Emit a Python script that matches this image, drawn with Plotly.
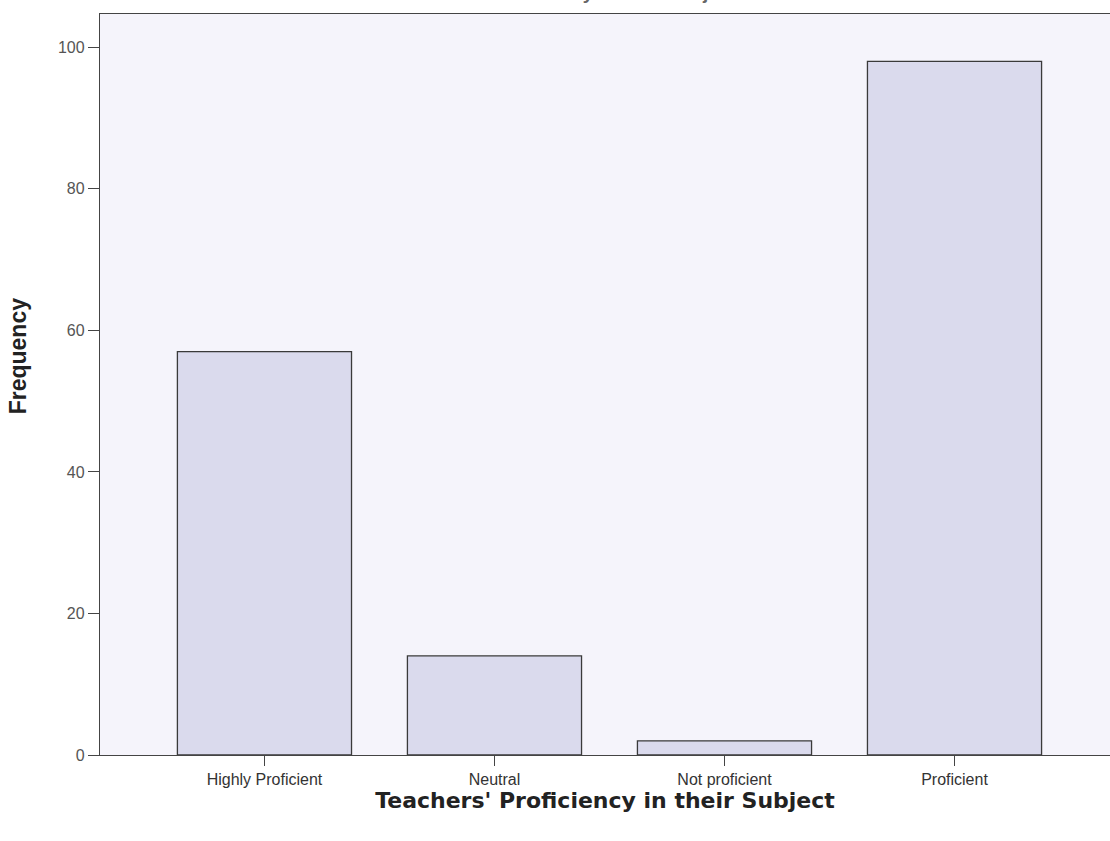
import plotly.graph_objects as go

categories = ["Highly Proficient", "Neutral", "Not proficient", "Proficient"]
frequencies = [57, 14, 2, 98]
y_ticks = [0, 20, 40, 60, 80, 100]
x_title = "Teachers' Proficiency in their Subject"
y_title = "Frequency"

positions = list(range(len(categories)))

fig = go.Figure()
fig.add_trace(go.Bar(
    x=positions, y=frequencies,
    marker=dict(color="#dadaed", line=dict(color="#3a3a3a", width=1.3)),
    width=0.757,
))

fig.update_layout(
    width=1110, height=841,
    margin=dict(l=100, r=0, t=14, b=86),
    paper_bgcolor="white",
    plot_bgcolor="#f5f4fb",
    showlegend=False,
    font=dict(family="Liberation Sans, Arial, sans-serif", color="#333333"),
)
fig.update_xaxes(
    range=[-0.715, 3.676],
    tickmode="array", tickvals=positions, ticktext=categories,
    ticks="outside", ticklen=10, tickcolor="#444444",
    showline=True, linecolor="#444444", linewidth=1.3, mirror=True,
    showgrid=False, zeroline=False,
    tickfont=dict(size=16, color="#333333"),
    title=dict(text="<b>" + x_title + "</b>", standoff=4,
               font=dict(family="DejaVu Sans, sans-serif", size=22, color="#222222")),
)
fig.update_yaxes(
    range=[0, 104.7],
    tickmode="array", tickvals=y_ticks,
    ticks="outside", ticklen=11, tickcolor="#444444",
    showline=True, linecolor="#444444", linewidth=1.3,
    showgrid=False, zeroline=False,
    tickfont=dict(size=16, color="#555555"),
)
# y-axis title (placed slightly above centre, as in the original)
fig.add_annotation(
    text="<b>" + y_title + "</b>", xref="paper", yref="paper",
    x=0, xshift=-82, y=0.538, xanchor="center", yanchor="middle", textangle=-90,
    showarrow=False, font=dict(family="Liberation Sans, Arial, sans-serif", size=23, color="#222222"),
)
# cut-off chart title at very top
fig.add_annotation(
    text="<b>" + x_title + "</b>", xref="paper", yref="paper",
    x=0.463, y=1.0, yshift=9, xanchor="center", yanchor="bottom",
    showarrow=False, font=dict(size=19, color="#666666"),
)

fig.write_html("out.html", config={"displayModeBar": False},
               post_script="document.body.style.margin='0';document.body.style.overflow='hidden';")
